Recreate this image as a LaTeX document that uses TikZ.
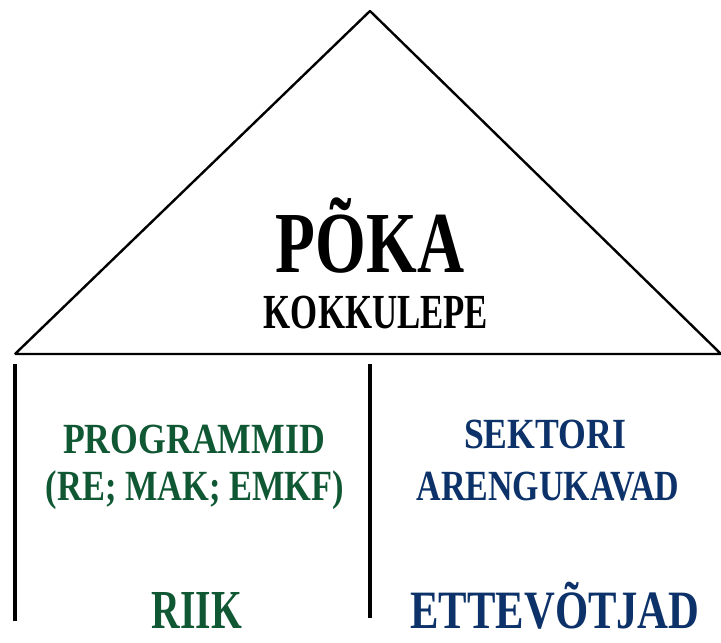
\documentclass[tikz,border=0pt]{standalone}
\usepackage{fontspec}
\setmainfont{Liberation Serif}
\usepackage{graphicx}
\definecolor{pgreen}{RGB}{16,88,52}
\definecolor{pblue}{RGB}{12,50,105}
\tikzset{
  lbl/.style={anchor=base, inner sep=0pt, font=\bfseries},
  roofline/.style={line width=2.4pt, line join=bevel},
  wall/.style={line width=4pt}
}
\begin{document}
\begin{tikzpicture}[x=1pt,y=-1pt]
\useasboundingbox (0,0) rectangle (721,643);
\coordinate (rl) at (15,354);
\coordinate (ra) at (370,11);
\coordinate (rr) at (721,354);
\draw[roofline] (rl) -- (ra) -- (rr) -- cycle;
\coordinate (w1t) at (15,364);
\coordinate (w1b) at (15,621);
\coordinate (w2t) at (370,364);
\coordinate (w2b) at (370,618);
\draw[wall] (w1t) -- (w1b);
\draw[wall] (w2t) -- (w2b);
\node[lbl] (poka) at (370,272) {\fontsize{87}{87}\selectfont\scalebox{0.75}[1]{PÕKA}};
\node[lbl] (kok) at (376,328) {\fontsize{49}{49}\selectfont\scalebox{0.71}[1]{KOKKULEPE}};
\node[lbl, text=pgreen] (prog) at (194,453) {\fontsize{43}{43}\selectfont\scalebox{0.83}[1]{PROGRAMMID}};
\node[lbl, text=pgreen] (re) at (195,500) {\fontsize{43}{43}\selectfont\scalebox{0.80}[1]{(RE; MAK; EMKF)}};
\node[lbl, text=pgreen] (riik) at (197,628) {\fontsize{55}{55}\selectfont\scalebox{0.72}[1]{RIIK}};
\node[lbl, text=pblue] (sek) at (545,448) {\fontsize{43}{43}\selectfont\scalebox{0.83}[1]{SEKTORI}};
\node[lbl, text=pblue] (are) at (548,500) {\fontsize{43}{43}\selectfont\scalebox{0.79}[1]{ARENGUKAVAD}};
\node[lbl, text=pblue] (ett) at (555,628) {\fontsize{54}{54}\selectfont\scalebox{0.79}[1]{ETTEVÕTJAD}};
\end{tikzpicture}
\end{document}
